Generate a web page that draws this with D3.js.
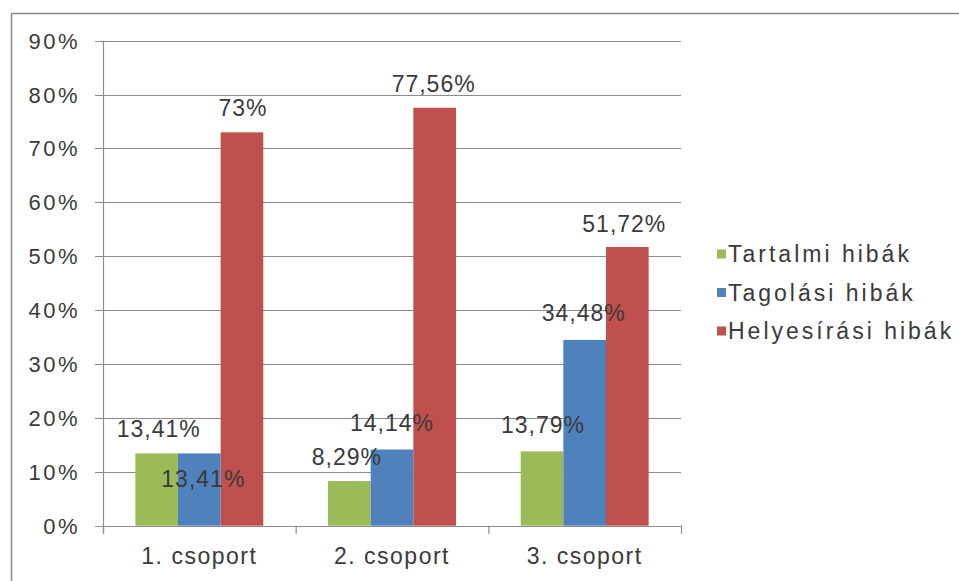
<!DOCTYPE html>
<html><head><meta charset="utf-8">
<script src="https://cdn.jsdelivr.net/npm/d3@7"></script>
<style>
body{margin:0;background:#fff;}
svg text{font-family:"Liberation Sans",Arial,sans-serif;fill:#3a3a3a;}
</style></head>
<body><svg id="c" width="959" height="581"></svg>
<script>
const categories = ["1. csoport", "2. csoport", "3. csoport"];
const seriesNames = ["Tartalmi hibák", "Tagolási hibák", "Helyesírási hibák"];
const tartalmi = [13.41, 8.29, 13.79];
const tagolasi = [13.41, 14.14, 34.48];
const helyesirasi = [73, 77.56, 51.72];
const labels = [["13,41%", "8,29%", "13,79%"], ["13,41%", "14,14%", "34,48%"], ["73%", "77,56%", "51,72%"]];
const yTicks = [0, 10, 20, 30, 40, 50, 60, 70, 80, 90];
const colors = ["#9BBB59", "#4F81BD", "#C0504D"];
// label placement tweaks (Excel's collision avoidance), dy from bar top to baseline
const labelDy = [[-16, -16, -18], [34, -18.5, -19], [-16, -16, -15]];
const labelDx = [[2, -2.5, 1], [4, 0, -1], [1, -1, -3]];

const series = [tartalmi, tagolasi, helyesirasi];
const svg = d3.select("#c");
svg.append("rect").attr("x", 11.5).attr("y", 13.5).attr("width", 1000).attr("height", 1000)
  .attr("fill", "#fff").attr("stroke", "#8a8a8a").attr("stroke-width", 1.5);

const pL = 103, pR = 681, pT = 40.7, pB = 525.7;
const y = d3.scaleLinear().domain([0, 90]).range([pB, pT]);
const x0 = d3.scaleBand().domain(categories).range([pL, pR]).paddingInner(0.336).paddingOuter(0.168);
const x1 = d3.scaleBand().domain(d3.range(3)).range([0, x0.bandwidth()]);

// gridlines
svg.append("g").selectAll("line").data(yTicks).join("line")
  .attr("x1", 95).attr("x2", pR).attr("y1", d => Math.round(y(d)) + 0.5).attr("y2", d => Math.round(y(d)) + 0.5)
  .attr("stroke", "#8c8c8c").attr("stroke-width", 1.2);
// y tick labels
svg.append("g").selectAll("text").data(yTicks).join("text")
  .attr("x", 80).attr("y", d => y(d) + 8).attr("text-anchor", "end")
  .style("font-size", "22px").style("letter-spacing", "2.5px")
  .text(d => d + "%");
// y axis line
svg.append("line").attr("x1", pL + 0.5).attr("x2", pL + 0.5).attr("y1", pT).attr("y2", pB + 8)
  .attr("stroke", "#8c8c8c").attr("stroke-width", 1.2);
// x ticks at boundaries
const bounds = [pL, pL + (pR - pL) / 3, pL + 2 * (pR - pL) / 3, pR];
svg.append("g").selectAll("line").data(bounds).join("line")
  .attr("x1", d => d + 0.5).attr("x2", d => d + 0.5).attr("y1", pB).attr("y2", pB + 8)
  .attr("stroke", "#8c8c8c").attr("stroke-width", 1.2);

// bars
const groups = svg.append("g").selectAll("g").data(categories).join("g")
  .attr("transform", c => `translate(${x0(c)},0)`);
groups.each(function(c, ci) {
  const g = d3.select(this);
  series.forEach((s, si) => {
    g.append("rect").attr("x", x1(si)).attr("width", x1.bandwidth())
      .attr("y", y(s[ci])).attr("height", pB - y(s[ci])).attr("fill", colors[si]);
  });
});
// data labels
groups.each(function(c, ci) {
  const g = d3.select(this);
  series.forEach((s, si) => {
    g.append("text").attr("x", x1(si) + x1.bandwidth() / 2 + labelDx[si][ci])
      .attr("y", y(s[ci]) + labelDy[si][ci]).attr("text-anchor", "middle")
      .style("font-size", "23px").style("letter-spacing", "1px")
      .text(labels[si][ci]);
  });
});
// x labels
svg.append("g").selectAll("text").data(categories).join("text")
  .attr("x", c => x0(c) + x0.bandwidth() / 2).attr("y", 564).attr("text-anchor", "middle")
  .style("font-size", "23px").style("letter-spacing", "1.5px").text(c => c);

// legend
const lg = svg.append("g").selectAll("g").data(seriesNames).join("g")
  .attr("transform", (d, i) => `translate(717,${254 + i * 38.5})`);
lg.append("rect").attr("x", 0).attr("y", -4.5).attr("width", 9).attr("height", 9).attr("fill", (d, i) => colors[i]);
lg.append("text").attr("x", 11).attr("y", 8).style("font-size", "23px").style("letter-spacing", "3px").text(d => d);
</script></body></html>
